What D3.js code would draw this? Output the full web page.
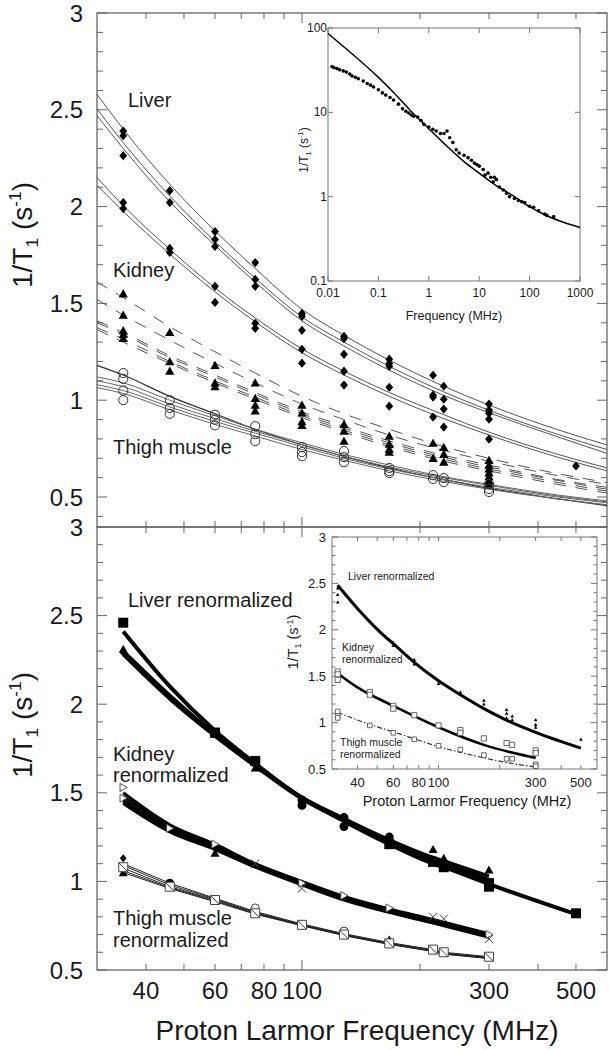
<!DOCTYPE html>
<html><head><meta charset="utf-8">
<script src="https://cdn.jsdelivr.net/npm/d3@7"></script>
<style>
body{margin:0;background:#fff}
svg{display:block}
text{font-family:"Liberation Sans",Arial,Helvetica,sans-serif;fill:#1a1a1a}
</style></head>
<body><svg id="c" width="609" height="1050"></svg>
<script>
// ---------------- DATA ----------------
const xTicks = [40,50,60,70,80,90,100,200,300,400,500];
const xLabels = [40,60,80,100,300,500];
const yLabels = [0.5,1,1.5,2,2.5,3];

// top panel: measured points (MHz, list of 1/T1 values)
const liverPts = [
 [35,[2.39,2.366,2.263,2.021,1.99]],[46,[2.082,2.021,1.784,1.763]],
 [60,[1.871,1.83,1.794,1.588,1.505]],[76,[1.711,1.624,1.588,1.397,1.371]],
 [100,[1.448,1.433,1.361,1.263,1.191]],[128,[1.33,1.318,1.237,1.15,1.078]],
 [167,[1.212,1.19,1.175,1.067,0.969]],[216,[1.129,1.026,1.016,0.913]],
 [230,[1.072,1.005,0.954,0.861]],[300,[0.98,0.949,0.933,0.902,0.799]],[500,[0.66]]
];
const kidneyPts = [
 [35,[1.55,1.44,1.36,1.34,1.32]],[46,[1.35,1.2,1.15]],[60,[1.18,1.09,1.07]],
 [76,[1.09,1.01,0.975,0.945]],[100,[0.975,0.935,0.89,0.87]],[128,[0.876,0.84,0.789]],
 [167,[0.815,0.773,0.748,0.732]],[216,[0.778,0.7]],[230,[0.756,0.721,0.681]],
 [300,[0.69,0.665,0.645,0.625,0.605,0.585,0.57]]
];
const thighPts = [
 [35,[1.14,1.11,1.05,1.0]],[46,[1.0,0.96,0.93]],[60,[0.925,0.9,0.87]],
 [76,[0.866,0.825,0.789]],[100,[0.758,0.732,0.711]],[128,[0.737,0.706,0.68]],
 [167,[0.65,0.634,0.624]],[216,[0.613,0.593]],[230,[0.598,0.577]],[300,[0.567,0.541,0.526]]
];
// top panel fitted curves, sampled at fitF
const fitF = [30,35,46,60,76,100,128,167,230,300,450,600];
const liverFits = [
 [2.58,2.40,2.115,1.875,1.68,1.47,1.335,1.207,1.072,0.975,0.847,0.769],
 [2.505,2.33,2.055,1.82,1.63,1.43,1.30,1.175,1.043,0.948,0.823,0.745],
 [2.47,2.30,2.025,1.80,1.61,1.41,1.28,1.155,1.025,0.935,0.81,0.725],
 [2.15,2.005,1.78,1.58,1.425,1.265,1.15,1.04,0.925,0.835,0.72,0.65],
 [2.11,1.975,1.755,1.56,1.405,1.245,1.13,1.02,0.905,0.82,0.705,0.635]
];
const kidneyFits = [
 [1.61,1.53,1.38,1.25,1.14,1.02,0.93,0.85,0.76,0.70,0.62,0.575],
 [1.52,1.44,1.31,1.19,1.09,0.98,0.90,0.82,0.74,0.685,0.61,0.565],
 [1.41,1.35,1.23,1.13,1.04,0.94,0.865,0.79,0.715,0.665,0.59,0.55],
 [1.40,1.34,1.22,1.12,1.03,0.93,0.855,0.78,0.705,0.655,0.585,0.54],
 [1.375,1.315,1.20,1.10,1.015,0.92,0.845,0.77,0.695,0.645,0.575,0.53],
 [1.365,1.30,1.19,1.09,1.005,0.91,0.835,0.76,0.685,0.635,0.565,0.52]
];
const thighFits = [
 [1.18,1.13,1.02,0.93,0.85,0.77,0.71,0.65,0.59,0.545,0.49,0.455],
 [1.12,1.09,1.00,0.92,0.85,0.78,0.72,0.665,0.605,0.565,0.51,0.48],
 [1.10,1.07,0.98,0.905,0.84,0.77,0.71,0.655,0.60,0.56,0.505,0.475],
 [1.08,1.05,0.965,0.89,0.83,0.76,0.70,0.645,0.59,0.55,0.50,0.47],
 [1.065,1.035,0.95,0.875,0.815,0.745,0.69,0.635,0.58,0.54,0.49,0.46]
];

// bottom panel: renormalized curves
const renF = [35,46,60,76,100,128,167,216,230,300,500];
const liverRen = [
 [2.41,2.10,1.85,1.665,1.47,1.34,1.21,1.10,1.08,0.985,0.815],
 [2.30,2.05,1.83,1.66,1.475,1.355,1.235,1.135,1.115,1.03],
 [2.29,2.04,1.83,1.655,1.47,1.35,1.225,1.12,1.10,1.01],
 [2.28,2.03,1.82,1.65,1.465,1.345,1.22,1.115,1.095,1.00]
];
const kidneyRen = [
 [1.50,1.32,1.21,1.10,1.00,0.915,0.845,0.785,0.77,0.705],
 [1.48,1.31,1.20,1.095,0.995,0.91,0.84,0.78,0.765,0.70],
 [1.46,1.30,1.19,1.09,0.99,0.905,0.835,0.775,0.76,0.695],
 [1.45,1.29,1.185,1.085,0.985,0.90,0.83,0.77,0.755,0.69],
 [1.44,1.28,1.18,1.08,0.98,0.895,0.825,0.765,0.75,0.685]
];
const thighRen = [
 [1.10,0.99,0.905,0.83,0.76,0.705,0.655,0.615,0.60,0.575],
 [1.09,0.98,0.90,0.825,0.755,0.70,0.65,0.61,0.595,0.57],
 [1.075,0.97,0.895,0.82,0.755,0.70,0.65,0.61,0.595,0.57],
 [1.06,0.965,0.89,0.82,0.75,0.695,0.645,0.605,0.59,0.565],
 [1.05,0.96,0.885,0.815,0.75,0.695,0.645,0.605,0.59,0.565]
];
// bottom panel markers
const renSquares = [[35,2.46],[60,1.84],[76,1.68],[167,1.21],[216,1.11],[230,1.08],[300,0.99],[300,0.97],[500,0.82]];
const renTriangles = [[35,2.31],[60,1.83],[76,1.64],[167,1.23],[216,1.18],[230,1.13],[300,1.065],[60,1.16],[35,1.05],[167,0.67]];
const renDots = [[100,1.46],[100,1.43],[128,1.36],[128,1.31],[167,1.25],[46,0.99]];
const renDiamonds = [[35,2.29],[100,1.45],[35,1.13]];
const renOpenTri = [[35,1.53],[35,1.47],[46,1.30],[60,1.21],[100,0.99],[128,0.92],[167,0.85],[300,0.70]];
const renCrosses = [[76,1.10],[100,0.96],[216,0.80],[230,0.79],[300,0.675]];
const renOpenCirc = [[76,0.85],[128,0.72]];
const renBoxX = [[35,1.08],[46,0.97],[60,0.895],[76,0.82],[100,0.755],[128,0.70],[167,0.65],[216,0.615],[230,0.60],[300,0.575]];

// top inset: NMRD data and model
const nmrdF = [0.012,0.013,0.015,0.017,0.02,0.023,0.027,0.03,0.035,0.04,0.05,0.06,0.07,0.08,0.1,0.12,0.14,0.17,0.2,0.25,0.3,0.35,0.4,0.45,0.5,0.6,0.7,0.8,1.0,1.2,1.4,1.7,2,2.3,2.6,3,3.5,4,5,6,7,8,9,10,12,13,15,17,19,20,22,25,30,35,40,50,60,70,80,100,120,150,200,220,300];
const nmrdR = [35,34,33,32,31,30,28.5,27,26,25,23.5,22,21,20,18.5,17,16,15,14,12.5,11,10.3,9.8,9.3,9,8.8,8,7.2,6.7,6.3,6.0,5.6,5.6,6.0,5.0,4.4,3.6,3.3,3.1,2.9,2.7,2.5,2.4,2.3,2.1,1.8,1.9,1.7,1.5,1.7,1.6,1.3,1.2,1.1,1.0,0.95,0.9,0.87,0.85,0.77,0.75,0.68,0.62,0.6,0.58];
const modelF = [0.01,0.02,0.05,0.1,0.2,0.5,1,2,5,10,20,50,100,200,500,1000];
const modelR = [86,60.8,37.9,26,17.2,9.6,6.4,4.28,2.6,1.9,1.4,1.0,0.76,0.61,0.49,0.43];
const insetXLabels = [0.01,0.1,1,10,100,1000];
const insetYLabels = [0.1,1,10,100];

// bottom inset
const inLivF = [32,40,52,60,75,100,128,167,214,300,500];
const inLivV = [2.48,2.23,1.97,1.85,1.66,1.45,1.30,1.15,1.03,0.895,0.725];
const inKidF = [32,40,60,100,167,300];
const inKidV = [1.53,1.38,1.18,0.95,0.76,0.62];
const inThiF = [32,46,60,80,100,128,167,216,300];
const inThiV = [1.11,0.98,0.90,0.81,0.74,0.68,0.62,0.57,0.52];
const inLivPts = [[32,2.45],[32,2.38],[32,2.30],[60,1.86],[60,1.83],[76,1.68],[76,1.63],[100,1.45],[100,1.42],[128,1.33],[128,1.31],[167,1.24],[167,1.20],[216,1.14],[216,1.10],[216,1.05],[230,1.07],[230,1.03],[300,1.03],[300,0.98],[300,0.95],[500,0.82]];
const inKidPts = [[32,1.55],[32,1.52],[32,1.46],[46,1.33],[46,1.30],[60,1.18],[60,1.15],[76,1.08],[100,0.97],[128,0.92],[128,0.89],[167,0.83],[216,0.78],[230,0.76],[300,0.70],[300,0.67]];
const inThiPts = [[32,1.12],[32,1.07],[32,1.05],[46,0.97],[60,0.89],[76,0.82],[100,0.75],[128,0.71],[167,0.65],[216,0.61],[230,0.61],[300,0.55],[300,0.53]];
const inXLabels = [40,60,80,100,300,500];

// ---------------- DRAWING ----------------
const svg = d3.select('#c');
const FR = '#666';
const x = d3.scaleLog().domain([30,600]).range([97,607]);
const yT = d3.scaleLinear().domain([0.5,3]).range([497,13]);
const yB = d3.scaleLinear().domain([0.5,3]).range([970,527]);

function shapes(kind, s){
  switch(kind){
    case 'dia': return `M0,${-s}L${s*0.85},0L0,${s}L${-s*0.85},0Z`;
    case 'tri': return `M0,${-s}L${s},${s*0.8}L${-s},${s*0.8}Z`;
    case 'triR': return `M${s},0L${-s*0.8},${-s}L${-s*0.8},${s}Z`;
    case 'sq': return `M${-s},${-s}H${s}V${s}H${-s}Z`;
    case 'sqx': return `M${-s},${-s}H${s}V${s}H${-s}ZM${-s},${-s}L${s},${s}`;
    case 'x': return `M${-s},${-s}L${s},${s}M${-s},${s}L${s},${-s}`;
  }
}
function marks(g, pts, xs, ys, kind, s, fill, stroke, sw){
  g.selectAll(null).data(pts).enter().append('path')
   .attr('transform', d=>`translate(${xs(d[0])},${ys(d[1])})`)
   .attr('d', shapes(kind,s)).attr('fill',fill).attr('stroke',stroke||'none').attr('stroke-width',sw||1);
}
function flat(groups){ const o=[]; groups.forEach(([f,vs])=>vs.forEach(v=>o.push([f,v]))); return o; }
function curve(g, fs, vs, xs, ys, color, w, dash, cv){
  const ln = d3.line().x(d=>xs(d[0])).y(d=>ys(d[1])).curve(cv||d3.curveMonotoneX);
  g.append('path').attr('d', ln(fs.map((f,i)=>[f,vs[i]])).toString())
   .attr('fill','none').attr('stroke',color).attr('stroke-width',w)
   .attr('stroke-dasharray',dash||null).attr('stroke-linecap','butt');
}
function yTitle(cx, cy, fs){
  const t = svg.append('text').attr('transform',`translate(${cx},${cy}) rotate(-90)`)
    .attr('text-anchor','middle').attr('font-size',fs);
  t.append('tspan').text('1/T');
  t.append('tspan').attr('font-size',fs*0.62).attr('dy',fs*0.22).text('1');
  t.append('tspan').attr('dy',-fs*0.22).text(' (s');
  t.append('tspan').attr('font-size',fs*0.62).attr('dy',-fs*0.38).text('-1');
  t.append('tspan').attr('dy',fs*0.38).text(')');
}
function txt(s, px, py, fs, anchor){
  return svg.append('text').attr('x',px).attr('y',py).attr('font-size',fs).attr('text-anchor',anchor||'start').text(s);
}

// ---- main frames & ticks
function panelFrame(ys, top, bot, yTickMin){
  const g = svg.append('g');
  g.append('rect').attr('x',97).attr('y',top).attr('width',510).attr('height',bot-top)
   .attr('fill','none').attr('stroke',FR).attr('stroke-width',1.3);
  xTicks.forEach(f=>{
    const L = f===100?10:6;
    g.append('line').attr('x1',x(f)).attr('x2',x(f)).attr('y1',top).attr('y2',top+L).attr('stroke',FR);
    g.append('line').attr('x1',x(f)).attr('x2',x(f)).attr('y1',bot).attr('y2',bot-L).attr('stroke',FR);
  });
  d3.range(Math.round(yTickMin*10), 31).forEach(k=>{
    const v=k/10, yy=ys(v), L = (k%5===0)?10:6;
    if(yy<top-0.5||yy>bot+0.5) return;
    g.append('line').attr('x1',97).attr('x2',97+L).attr('y1',yy).attr('y2',yy).attr('stroke',FR);
    g.append('line').attr('x1',607).attr('x2',607-L).attr('y1',yy).attr('y2',yy).attr('stroke',FR);
  });
  yLabels.forEach(v=>{
    txt(String(v), 83, ys(v), 24, 'end').attr('dominant-baseline','central');
  });
}
panelFrame(yT, 13, 527, 0.4);
panelFrame(yB, 527, 970, 0.5);

// ---- top panel content
const gT = svg.append('g');
liverFits.forEach(vs=>curve(gT, fitF, vs, x, yT, '#555', 1));
thighFits.forEach((vs,i)=>curve(gT, fitF, vs, x, yT, i===0?'#333':'#666', i===0?1.2:1));
kidneyFits.forEach(vs=>curve(gT, fitF, vs, x, yT, '#555', 1, '12,10'));
marks(gT, flat(liverPts), x, yT, 'dia', 4.6, '#000');
marks(gT, flat(kidneyPts), x, yT, 'tri', 4.6, '#000');
gT.selectAll(null).data(flat(thighPts)).enter().append('circle')
  .attr('cx',d=>x(d[0])).attr('cy',d=>yT(d[1])).attr('r',4.6)
  .attr('fill','none').attr('stroke','#333').attr('stroke-width',1);
txt('Liver',128,107,20);
txt('Kidney',113,277,20);
txt('Thigh muscle',113,454,20);

// ---- bottom panel content
const gB = svg.append('g');
thighRen.forEach(vs=>curve(gB, renF.slice(0,vs.length), vs, x, yB, '#222', 1, null, d3.curveLinear));
kidneyRen.forEach(vs=>curve(gB, renF.slice(0,vs.length), vs, x, yB, '#000', 3));
liverRen.forEach((vs,i)=>curve(gB, renF.slice(0,vs.length), vs, x, yB, '#000', i===0?4:3.5));
marks(gB, renSquares, x, yB, 'sq', 5, '#000');
marks(gB, renTriangles, x, yB, 'tri', 4.5, '#000');
gB.selectAll(null).data(renDots).enter().append('circle')
  .attr('cx',d=>x(d[0])).attr('cy',d=>yB(d[1])).attr('r',4.5).attr('fill','#000');
marks(gB, renDiamonds, x, yB, 'dia', 4, '#000');
marks(gB, renOpenTri, x, yB, 'triR', 4, '#fff', '#444', 0.9);
marks(gB, renCrosses, x, yB, 'x', 4, 'none', '#444', 1);
gB.selectAll(null).data(renOpenCirc).enter().append('circle')
  .attr('cx',d=>x(d[0])).attr('cy',d=>yB(d[1])).attr('r',4).attr('fill','#fff').attr('stroke','#444');
marks(gB, renBoxX, x, yB, 'sqx', 4.5, '#fff', '#444', 1);
txt('Liver renormalized',128,607,20);
txt('Kidney',113,761,20);
txt('renormalized',113,782,20);
txt('Thigh muscle',113,925,20);
txt('renormalized',113,947,20);

// ---- axis titles and labels
yTitle(32, 235, 28);
yTitle(32, 725, 28);
xLabels.forEach(f=>txt(String(f), x(f), 999, 24, 'middle'));
txt('Proton Larmor Frequency (MHz)', 357, 1040, 28, 'middle');

// ---- top inset
const xi = d3.scaleLog().domain([0.01,1000]).range([328,580]);
const yi = d3.scaleLog().domain([0.1,100]).range([281,28]);
const gI = svg.append('g');
gI.append('rect').attr('x',328).attr('y',28).attr('width',252).attr('height',253)
  .attr('fill','none').attr('stroke','#777').attr('stroke-width',1);
insetXLabels.forEach(f=>{
  gI.append('line').attr('x1',xi(f)).attr('x2',xi(f)).attr('y1',281).attr('y2',276).attr('stroke','#777');
  gI.append('line').attr('x1',xi(f)).attr('x2',xi(f)).attr('y1',28).attr('y2',33).attr('stroke','#777');
  txt(String(f), xi(f), 297, 12, 'middle');
});
insetYLabels.forEach(v=>{
  gI.append('line').attr('x1',328).attr('x2',333).attr('y1',yi(v)).attr('y2',yi(v)).attr('stroke','#777');
  gI.append('line').attr('x1',580).attr('x2',575).attr('y1',yi(v)).attr('y2',yi(v)).attr('stroke','#777');
  txt(String(v), 327, yi(v), 12, 'end').attr('dominant-baseline','central');
});
curve(gI, modelF, modelR, xi, yi, '#000', 1.5);
gI.selectAll(null).data(nmrdF.map((f,i)=>[f,nmrdR[i]])).enter().append('circle')
  .attr('cx',d=>xi(d[0])).attr('cy',d=>yi(d[1])).attr('r',1.8).attr('fill','#000');
txt('Frequency (MHz)', 454, 320, 12.5, 'middle');
yTitle(308, 150, 12);

// ---- bottom inset
const xb = d3.scaleLog().domain([30,600]).range([332,597]);
const yb = d3.scaleLinear().domain([0.5,3]).range([769,537]);
const gJ = svg.append('g');
gJ.append('rect').attr('x',332).attr('y',537).attr('width',265).attr('height',232)
  .attr('fill','none').attr('stroke','#777').attr('stroke-width',1);
xTicks.forEach(f=>{
  gJ.append('line').attr('x1',xb(f)).attr('x2',xb(f)).attr('y1',769).attr('y2',765).attr('stroke','#777');
  gJ.append('line').attr('x1',xb(f)).attr('x2',xb(f)).attr('y1',537).attr('y2',541).attr('stroke','#777');
});
d3.range(5,31).forEach(k=>{
  const yy=yb(k/10), L=(k%5===0)?6:3.5;
  gJ.append('line').attr('x1',332).attr('x2',332+L).attr('y1',yy).attr('y2',yy).attr('stroke','#777');
  gJ.append('line').attr('x1',597).attr('x2',597-L).attr('y1',yy).attr('y2',yy).attr('stroke','#777');
});
yLabels.forEach(v=>txt(String(v), 326, yb(v), 13, 'end').attr('dominant-baseline','central'));
inXLabels.forEach(f=>txt(String(f), xb(f), 787, 13, 'middle'));
curve(gJ, inLivF, inLivV, xb, yb, '#000', 3);
curve(gJ, inKidF, inKidV, xb, yb, '#000', 2.6);
curve(gJ, inThiF, inThiV, xb, yb, '#333', 1.2, '5,2,1.5,2');
marks(gJ, inLivPts, xb, yb, 'tri', 1.8, '#000');
marks(gJ, inKidPts, xb, yb, 'sq', 2.6, '#fff', '#555', 0.9);
marks(gJ, inThiPts, xb, yb, 'sq', 2.3, '#fff', '#555', 0.9);
txt('Liver renormalized', 348, 580, 10.5);
txt('Kidney', 342, 651, 10.5);
txt('renormalized', 342, 663, 10.5);
txt('Thigh muscle', 340, 746, 10.5);
txt('renormalized', 340, 758, 10.5);
txt('Proton Larmor Frequency (MHz)', 467, 806, 14.5, 'middle');
yTitle(298, 642, 14.5);
</script></body></html>
